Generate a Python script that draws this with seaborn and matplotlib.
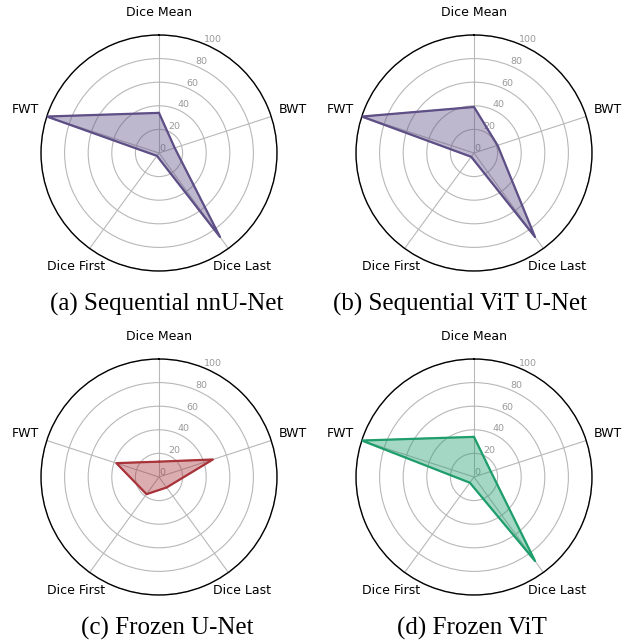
import numpy as np
import pandas as pd
import matplotlib
matplotlib.use('Agg')
import matplotlib.pyplot as plt
import seaborn as sns

# Radar axes, clockwise from the top
categories = ['Dice Mean', 'BWT', 'Dice Last', 'Dice First', 'FWT']

# Values (0-100 scale)
seq_nnunet = [34, 14, 88, 3, 100]
seq_vit_unet = [39, 21, 88, 4, 100]
frozen_unet = [13, 48, 11, 18, 38]
frozen_vit = [34, 15, 88, 6, 100]

captions = ['(a) Sequential nnU-Net', '(b) Sequential ViT U-Net',
            '(c) Frozen U-Net', '(d) Frozen ViT']
colors = ['#5e4f86', '#5e4f86', '#a8343a', '#1f9e6c']
r_ticks = [0, 20, 40, 60, 80, 100]

sns.set_style('white')
plt.rcParams['font.family'] = ['DejaVu Sans']
plt.rcParams['text.color'] = 'black'
plt.rcParams['xtick.color'] = 'black'
plt.rcParams['xtick.labelcolor'] = 'black'

fig = plt.figure(figsize=(6.29, 6.44), dpi=100)

# panel boxes in figure fractions: left, bottom, width, height
boxes = [
    [41 / 629, 0.5792, 236 / 629, 236 / 644],
    [356 / 629, 0.5792, 236 / 629, 236 / 644],
    [41 / 629, 0.0761, 236 / 629, 236 / 644],
    [356 / 629, 0.0761, 236 / 629, 236 / 644],
]
caption_pos = [(167 / 629, 1 - 304 / 644), (460 / 629, 1 - 304 / 644),
               (167 / 629, 1 - 628 / 644), (472 / 629, 1 - 628 / 644)]

angles = np.linspace(0, 2 * np.pi, len(categories), endpoint=False)

for i, vals in enumerate([seq_nnunet, seq_vit_unet, frozen_unet, frozen_vit]):
    ax = fig.add_axes(boxes[i], projection='polar')
    ax.set_theta_offset(np.pi / 2)
    ax.set_theta_direction(-1)

    df = pd.DataFrame({
        'theta': np.append(angles, angles[0]),
        'value': vals + [vals[0]],
    })
    ax.fill(df['theta'], df['value'], color=colors[i], alpha=0.4, zorder=3)
    sns.lineplot(data=df, x='theta', y='value', sort=False, estimator=None,
                 color=colors[i], linewidth=1.6, ax=ax, zorder=4)

    ax.set_ylim(0, 100)
    ax.set_yticks(r_ticks)
    ax.set_yticklabels([str(t) for t in r_ticks], color='#999999', fontsize=6.8)
    ax.set_rlabel_position(22.5)
    ax.set_xticks(angles)
    ax.set_xticklabels(categories, fontsize=9, color='black')
    ax.tick_params(axis='x', pad=6)
    ax.set_xlabel('')
    ax.set_ylabel('')
    ax.grid(True, color='#b8b8b8', linewidth=0.8)
    ax.spines['polar'].set_color('black')
    ax.spines['polar'].set_linewidth(1.0)

    fig.text(caption_pos[i][0], caption_pos[i][1], captions[i], color='black',
             family='Liberation Serif', fontsize=18, ha='center', va='center')

fig.savefig('out.png', dpi=100)
